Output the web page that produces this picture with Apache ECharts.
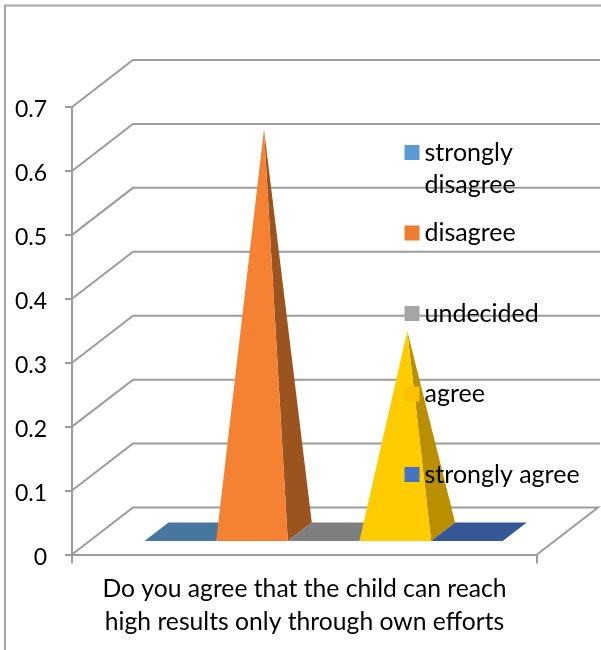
<!DOCTYPE html>
<html>
<head>
<meta charset="utf-8">
<style>
  html, body { margin: 0; padding: 0; background: #fff; }
  #chart { width: 601px; height: 650px; }
</style>
<script src="https://cdn.jsdelivr.net/npm/echarts@6/dist/echarts.min.js"></script>
</head>
<body>
<div id="chart"></div>
<script>
var categories = ['Do you agree that the child can reach\nhigh results only through own efforts'];
var seriesNames = ['strongly disagree', 'disagree', 'undecided', 'agree', 'strongly agree'];
var seriesValues = [0, 0.63, 0, 0.314, 0];
var yTicks = [0, 0.1, 0.2, 0.3, 0.4, 0.5, 0.6, 0.7];

var legendColors = ['#5B9BD5', '#ED7D31', '#A5A5A5', '#FFC000', '#4472C4'];
var frontColors = ['#5B9BD5', '#F58233', '#A5A5A5', '#FFCC00', '#4472C4'];
var sideColors = ['#47769F', '#9C541F', '#7F7F7F', '#B98F00', '#345796'];

var FONT = 'Lato';
var FONT_SIZE = 24.7;
var LINE_COLOR = '#9C9C9C';

// hidden x scale: one unit is one pyramid slot
var X_MIN = -1.012;
var X_MAX = 5.478;
// wall depth in pixels
var WALL_DX = 61;
var WALL_DY = -47;
// pyramid base, relative to the floor front edge
var BASE_FRONT_DY = -13.5;
var BASE_DX = 24;
var BASE_DY = -18.5;

var chart = echarts.init(document.getElementById('chart'));

function renderWall(params, api) {
  var p = api.coord([X_MIN, api.value(0)]);
  var isFloor = api.value(0) === 0;
  var backY = p[1] + WALL_DY;
  var points = [[p[0], p[1]], [p[0] + WALL_DX, backY], [isFloor ? 598 : 600, backY]];
  if (isFloor) {
    points.push([537, p[1]]);
  }
  return {
    type: 'polyline',
    shape: { points: points },
    style: { fill: null, stroke: LINE_COLOR, lineWidth: 2 },
    silent: true
  };
}

function renderPyramid(params, api) {
  var i = params.seriesIndex - 1;
  var left = api.coord([i, 0]);
  var right = api.coord([i + 1, 0]);
  var top = api.coord([i + 0.5, api.value(1)]);
  var y0 = left[1] + BASE_FRONT_DY;
  var fl = [left[0], y0];
  var fr = [right[0], y0];
  var br = [right[0] + BASE_DX, y0 + BASE_DY];
  var bl = [left[0] + BASE_DX, y0 + BASE_DY];
  var apex = [top[0] + BASE_DX / 2, top[1] + BASE_FRONT_DY + BASE_DY / 2];
  var children = [];
  if (api.value(1) === 0) {
    children.push({ type: 'polygon', shape: { points: [fl, fr, br, bl] }, style: { fill: sideColors[i] } });
  } else {
    children.push({ type: 'polygon', shape: { points: [fr, br, apex] }, style: { fill: sideColors[i] } });
    children.push({ type: 'polygon', shape: { points: [fl, fr, apex] }, style: { fill: frontColors[i] } });
  }
  return { type: 'group', children: children };
}

var series = [{
  type: 'custom',
  name: 'walls',
  xAxisIndex: 1,
  yAxisIndex: 0,
  silent: true,
  clip: false,
  z: 1,
  data: yTicks.map(function (v) { return [v]; }),
  encode: { y: 0 },
  renderItem: renderWall
}];
seriesNames.forEach(function (name, i) {
  series.push({
    type: 'custom',
    name: name,
    xAxisIndex: 1,
    yAxisIndex: 0,
    clip: false,
    z: 2,
    itemStyle: { color: legendColors[i] },
    data: [[i, seriesValues[i]]],
    encode: { x: 0, y: 1 },
    renderItem: renderPyramid
  });
});

var legends = seriesNames.map(function (name, i) {
  var twoLines = i === 0;
  return {
    data: [name],
    left: 404.5,
    top: 152.5 + i * 80.5 - (twoLines ? 48 : 16),
    orient: 'vertical',
    padding: 0,
    itemWidth: 15,
    itemHeight: 15,
    selectedMode: false,
    icon: 'rect',
    // blank first line keeps the icon level with "strongly"
    formatter: twoLines ? '\nstrongly\ndisagree' : '{name}',
    textStyle: { fontFamily: FONT, fontSize: 25, lineHeight: 32, color: '#000' }
  };
});

var option = {
  backgroundColor: '#fff',
  animation: false,
  tooltip: { show: false },
  legend: legends,
  grid: { left: 72, right: 64, top: 107, bottom: 95.5 },
  xAxis: [{
    type: 'category',
    data: categories,
    axisLine: { show: true, lineStyle: { color: LINE_COLOR, width: 2 } },
    axisTick: { show: true, length: 9, lineStyle: { color: LINE_COLOR, width: 2 } },
    axisLabel: { margin: 18, fontFamily: FONT, fontSize: FONT_SIZE, lineHeight: 33, color: '#000', align: 'center' }
  }, {
    type: 'value',
    show: false,
    min: X_MIN,
    max: X_MAX
  }],
  yAxis: {
    type: 'value',
    min: 0,
    max: 0.7,
    interval: 0.1,
    splitLine: { show: false },
    axisLine: { show: true, onZero: false, lineStyle: { color: LINE_COLOR, width: 2 } },
    axisTick: { show: true, length: 7, lineStyle: { color: LINE_COLOR, width: 2 } },
    axisLabel: { margin: 25, lineHeight: 30, verticalAlign: 'top', padding: [-12, 0, 0, 0], fontFamily: FONT, fontSize: 23, color: '#000' }
  },
  graphic: [{
    type: 'rect',
    shape: { x: 5, y: 5.5, width: 700, height: 700 },
    style: { fill: null, stroke: '#A6A6A6', lineWidth: 2 },
    silent: true,
    z: 0
  }],
  series: series
};

chart.setOption(option);
window.addEventListener('resize', function () {
  chart.resize();
});
</script>
</body>
</html>
